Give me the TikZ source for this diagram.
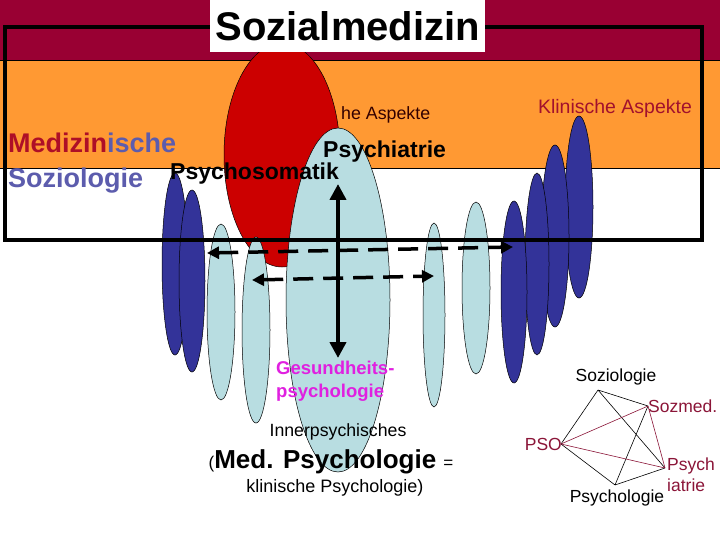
\documentclass[tikz,border=0pt]{standalone}
\usepackage{fontspec}
\setmainfont{Liberation Sans}
\usetikzlibrary{arrows.meta}
\definecolor{band}{HTML}{990033}
\definecolor{orng}{HTML}{FF9933}
\definecolor{lblue}{HTML}{B8DDE1}
\definecolor{dblue}{HTML}{333399}
\definecolor{rd}{HTML}{CC0000}
\definecolor{wine}{HTML}{8B1538}
\definecolor{mag}{HTML}{E020E0}
\begin{document}
\begin{tikzpicture}[x=1pt,y=-1pt,
  lb/.style={fill=lblue,draw=black,line width=0.5pt},
  db/.style={fill=dblue,draw=black,line width=0.5pt},
  da/.style={line width=3.5pt,dash pattern=on 20pt off 10pt,{Triangle[length=12pt,width=12pt]}-{Triangle[length=12pt,width=12pt]}},
  lbl/.style={inner sep=0pt,font=\fontsize{17.5}{19}\selectfont},
  bl/.style={inner sep=0pt,font=\bfseries\fontsize{23}{25}\selectfont},
  ed/.style={line width=0.6pt},
  edr/.style={line width=0.6pt,draw=wine}]
\useasboundingbox (0,0) rectangle (720,540);
\fill[white] (0,0) rectangle (720,540);
\fill[band] (0,0) rectangle (720,60);
\fill[orng] (0,60) rectangle (720,168);
\draw[line width=0.5pt] (0,60) -- (720,60) (0,168) -- (720,168);
\node[lbl,anchor=west,text=black!80!red,font=\fontsize{17.8}{19}\selectfont] (hea) at (341,115) {he Aspekte};
\node[lbl,text=wine!80!red,font=\fontsize{19.5}{21}\selectfont] (kla) at (615,108) {Klinische Aspekte};
% ellipses
\draw[fill=rd,draw=black,line width=0.5pt] (282,155) ellipse [x radius=58,y radius=112];
\draw[db] (175,264) ellipse [x radius=13,y radius=91];
\draw[db] (192,281) ellipse [x radius=13,y radius=91];
\draw[lb] (221,312) ellipse [x radius=14,y radius=88];
\draw[lb] (256,330) ellipse [x radius=14,y radius=93];
\draw[lb] (434,315) ellipse [x radius=11,y radius=92];
\draw[lb] (476,288) ellipse [x radius=14,y radius=86];
\draw[db] (579,207) ellipse [x radius=14,y radius=91];
\draw[db] (555,236) ellipse [x radius=14,y radius=91];
\draw[db] (537,264) ellipse [x radius=12,y radius=91];
\draw[db] (514,292) ellipse [x radius=13,y radius=91];
\draw[lb] (338,300) ellipse [x radius=52,y radius=172];
% frame
\draw[line width=4pt] (5,27) rectangle (702,240);
\node[fill=white,inner sep=0pt,minimum width=275,minimum height=52,anchor=north west,font=\bfseries\fontsize{40}{44}\selectfont] (title) at (210,0) {Sozialmedizin};
% left texts
\node[inner sep=0pt,anchor=base west,font=\bfseries\fontsize{27}{29}\selectfont] (med) at (8,153) {\textcolor{wine!70!red}{Medizin}\textcolor{dblue!80!white}{ische}};
\node[inner sep=0pt,anchor=base west,font=\bfseries\fontsize{27}{29}\selectfont,text=dblue!80!white] (soz) at (8,188) {Soziologie};
\node[bl,anchor=base west] (pso) at (170,180) {Psychosomatik};
\node[bl,anchor=base west] (psy) at (323,158) {Psychiatrie};
% arrows
\coordinate (vt) at (338,184);
\coordinate (vb) at (338,358);
\draw[line width=4pt,{Triangle[length=16pt,width=16pt]}-{Triangle[length=16pt,width=16pt]}] (vt) -- (vb);
\coordinate (a1) at (207,253); \coordinate (a2) at (513,247);
\coordinate (b1) at (252,280); \coordinate (b2) at (434,276);
\draw[da] (a1) -- (a2);
\draw[da] (b1) -- (b2);
% lower texts
\node[inner sep=0pt,anchor=west,align=left,text=mag,font=\bfseries\fontsize{18.5}{23}\selectfont] (ges) at (276,381) {Gesundheits-\\psychologie};
\node[lbl,font=\fontsize{17.7}{19}\selectfont] (inn) at (338,432) {Innerpsychisches};
\node[inner sep=0pt] (mps) at (331,462) {{\fontsize{17}{18}\selectfont(}{\bfseries\fontsize{26}{28}\selectfont Med. Psychologie }{\fontsize{17}{18}\selectfont=}};
\node[lbl,font=\fontsize{18}{19}\selectfont] (kps) at (335,488) {klinische Psychologie)};
% pentagon
\coordinate (p1) at (598,390);
\coordinate (p2) at (648,406);
\coordinate (p3) at (665,468);
\coordinate (p4) at (615,485);
\coordinate (p5) at (561,444);
\draw[ed] (p1) -- (p2) (p1) -- (p5) (p1) -- (p3) (p2) -- (p4) (p5) -- (p4) (p4) -- (p3);
\draw[edr] (p5) -- (p2) (p5) -- (p3) (p2) -- (p3);
\node[lbl] (s1) at (616,377) {Soziologie};
\node[lbl,anchor=west,text=wine] (s2) at (648,406) {Sozmed.};
\node[lbl,anchor=east,text=wine] (s5) at (562,444) {PSO};
\node[lbl,anchor=north west,align=left,text=wine,font=\fontsize{17.5}{21}\selectfont] (s3) at (667,458) {Psych\\iatrie};
\node[lbl] (s4) at (617,498) {Psychologie};
\end{tikzpicture}
\end{document}
